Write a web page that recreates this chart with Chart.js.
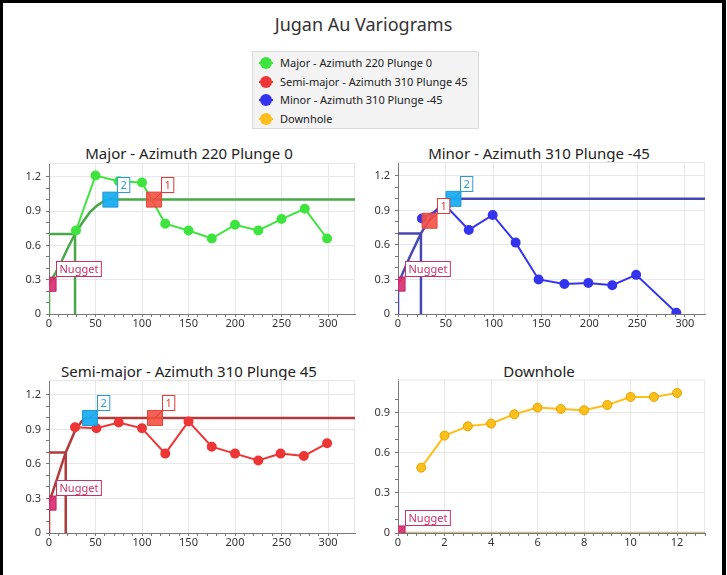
<!DOCTYPE html>
<html>
<head>
<meta charset="utf-8">
<script src="https://cdn.jsdelivr.net/npm/chart.js@4.4.1/dist/chart.umd.min.js"></script>
<style>
  body { margin: 0; background: #fff; font-family: "Noto Sans", sans-serif; }
  #frame { position: absolute; left: 0; top: 0; width: 719px; height: 600px; border: 3px solid #000; border-right-width: 4px; border-bottom: none; }
  #title { position: absolute; left: 0; width: 727px; top: 12px; text-align: center; font-size: 18px; color: #333; line-height: 24px; }
  .ptitle { position: absolute; width: 360px; text-align: center; font-size: 15px; color: #222; line-height: 20px; }
  #legend { position: absolute; left: 252px; top: 51px; width: 225px; height: 76px; background: #f3f3f3; border: 1px solid #dadada; }
  .item { position: absolute; left: 0; width: 225px; height: 18px; line-height: 18px; font-size: 11px; color: #222; }
  .item .ln { position: absolute; left: 6px; top: 8px; width: 14px; height: 2px; }
  .item .dot { position: absolute; left: 7px; top: 3px; width: 12px; height: 12px; border-radius: 50%; }
  .item span { position: absolute; left: 27px; }
  canvas { position: absolute; }
</style>
</head>
<body>
<div id="frame"></div>
<div id="title">Jugan Au Variograms</div>
<div id="legend"></div>

<div class="ptitle" id="t0" style="left:9px;top:143px"></div>
<div class="ptitle" id="t1" style="left:359px;top:143px"></div>
<div class="ptitle" id="t2" style="left:9px;top:361px"></div>
<div class="ptitle" id="t3" style="left:359px;top:361px"></div>

<canvas id="c0" width="360" height="190" style="left:4px;top:150px"></canvas>
<canvas id="c1" width="345" height="190" style="left:370px;top:150px"></canvas>
<canvas id="c2" width="360" height="191" style="left:4px;top:368px"></canvas>
<canvas id="c3" width="345" height="191" style="left:370px;top:368px"></canvas>

<script>
// names
const seriesNames = ['Major - Azimuth 220 Plunge 0', 'Semi-major - Azimuth 310 Plunge 45', 'Minor - Azimuth 310 Plunge -45', 'Downhole'];
const panelTitles = ['Major - Azimuth 220 Plunge 0', 'Minor - Azimuth 310 Plunge -45', 'Semi-major - Azimuth 310 Plunge 45', 'Downhole'];

// experimental variograms (lag, gamma)
const majorLag = [29, 50, 75, 100, 125, 150, 175, 200, 225, 250, 275, 299];
const majorGamma = [0.73, 1.21, 1.16, 1.15, 0.79, 0.73, 0.66, 0.78, 0.73, 0.83, 0.92, 0.66];
const minorLag = [25, 50, 74, 99, 123, 147, 174, 199, 224, 249, 291];
const minorGamma = [0.83, 0.94, 0.73, 0.86, 0.62, 0.30, 0.26, 0.27, 0.25, 0.34, 0.01];
const semiLag = [28, 51, 75, 100, 125, 150, 175, 200, 225, 249, 274, 299];
const semiGamma = [0.92, 0.91, 0.96, 0.91, 0.69, 0.97, 0.75, 0.69, 0.63, 0.69, 0.67, 0.78];
const dhLag = [1, 2, 3, 4, 5, 6, 7, 8, 9, 10, 11, 12];
const dhGamma = [0.49, 0.73, 0.80, 0.82, 0.89, 0.94, 0.93, 0.92, 0.96, 1.02, 1.02, 1.05];

// fitted model curves
const majorModelLag = [0, 0, 7, 14, 21, 28, 36, 44, 52, 60, 66, 329];
const majorModelGamma = [0, 0.26, 0.36, 0.47, 0.59, 0.70, 0.80, 0.89, 0.95, 0.99, 1.0, 1.0];
const minorModelLag = [0, 0, 12, 24, 36, 46, 55, 321];
const minorModelGamma = [0, 0.26, 0.49, 0.70, 0.86, 0.96, 1.0, 1.0];
const semiModelLag = [0, 0, 9, 18, 27, 35, 40, 329];
const semiModelGamma = [0, 0.26, 0.48, 0.70, 0.87, 0.97, 1.0, 1.0];
const dhModelLag = [0, 13.2];
const dhModelGamma = [0, 0];

// nugget, structure handles: [lag, gamma]
const nugget = [[0, 0.26], [0, 0.26], [0, 0.26], [0, 0]];
const struct1 = [[113, 1.0], [33, 0.81], [114, 1.0]];
const struct2 = [[66, 1.0], [58, 1.0], [44, 1.0]];
// first structure guide (range, sill)
const guide = [[28, 0.7], [24, 0.7], [18, 0.7]];

const green = '#3ee43e', red = '#ee3535', blue = '#3434ee', gold = '#ffbf1a';
const seriesColors = [green, red, blue, gold];

// legend
const leg = document.getElementById('legend');
seriesNames.forEach((n, i) => {
  const d = document.createElement('div');
  d.className = 'item';
  d.style.top = (2 + i * 18.5) + 'px';
  d.innerHTML = '<div class="ln" style="background:' + seriesColors[i] + '"></div><div class="dot" style="background:' + seriesColors[i] + '"></div><span>' + n + '</span>';
  leg.appendChild(d);
});
panelTitles.forEach((t, i) => { document.getElementById('t' + i).textContent = t; });

const pts = (xs, ys) => xs.map((x, i) => ({ x: x, y: ys[i] }));
const near = (v, s) => Math.abs(v / s - Math.round(v / s)) < 1e-6;
const FONT = '"Noto Sans", sans-serif';

const tagPlugin = {
  id: 'tags',
  beforeDatasetsDraw(chart) {
    const a = chart.chartArea, ctx = chart.ctx;
    ctx.save();
    ctx.strokeStyle = '#e6e6e6';
    ctx.lineWidth = 1;
    ctx.beginPath();
    ctx.moveTo(a.left, a.top + 0.5);
    ctx.lineTo(a.right - 0.5, a.top + 0.5);
    ctx.lineTo(a.right - 0.5, a.bottom);
    ctx.stroke();
    ctx.restore();
  },
  afterDatasetsDraw(chart) {
    const ctx = chart.ctx;
    chart.data.datasets.forEach((ds, i) => {
      if (!ds.tag) return;
      const el = chart.getDatasetMeta(i).data[0];
      const px = el.x, py = el.y;
      ctx.save();
      ctx.font = '11px ' + FONT;
      const w = ctx.measureText(ds.tag).width + 6;
      const bx = Math.round(px + 7) + 0.5, by = Math.round(py - 8) + 0.5;
      ctx.strokeStyle = ds.tagColor;
      ctx.lineWidth = 1;
      ctx.beginPath();
      ctx.moveTo(px, py);
      ctx.lineTo(bx, by);
      ctx.stroke();
      ctx.fillStyle = '#fff';
      ctx.fillRect(bx, by - 15, w, 15);
      ctx.strokeRect(bx, by - 15, w, 15);
      ctx.fillStyle = ds.tagColor;
      ctx.textBaseline = 'middle';
      ctx.fillText(ds.tag, bx + 3, by - 7);
      ctx.restore();
    });
  }
};

function handle(p, tag, fill, stroke, tagColor, r) {
  return {
    data: [{ x: p[0], y: p[1] }], pointStyle: 'rect', pointRadius: r, pointHoverRadius: r,
    backgroundColor: fill, borderColor: stroke, borderWidth: 1, order: 1, clip: 0,
    tag: tag, tagColor: tagColor
  };
}

function lineSet(data, color, width, radius, order, extra) {
  return Object.assign({
    data: data, showLine: true, borderColor: color, backgroundColor: color,
    borderWidth: width, pointRadius: radius, pointHoverRadius: radius, order: order
  }, extra || {});
}

function makePanel(id, o) {
  return new Chart(document.getElementById(id), {
    type: 'scatter',
    data: { datasets: o.datasets },
    options: {
      responsive: false,
      animation: false,
      devicePixelRatio: 1,
      events: [],
      layout: { autoPadding: false, padding: { top: o.padTop, right: o.padRight, left: 0, bottom: 0 } },
      plugins: { legend: { display: false }, tooltip: { enabled: false }, title: { display: false } },
      scales: {
        x: {
          type: 'linear', min: 0, max: o.xMax,
          afterBuildTicks: s => { s.ticks = s.ticks.filter(t => near(t.value, o.xMinor)); },
          afterFit: s => { s.height = 26; },
          ticks: {
            stepSize: o.xMinor, autoSkip: false, maxRotation: 0, padding: 0,
            color: '#333', font: { size: 11, family: FONT },
            callback: v => near(v, o.xStep) ? String(Math.round(v)) : ''
          },
          grid: {
            color: c => (c.tick && near(c.tick.value, o.xStep)) ? '#e8e8e8' : 'rgba(0,0,0,0)',
            tickColor: '#777', tickLength: 3
          },
          border: { color: '#777' }
        },
        y: {
          type: 'linear', min: 0, max: o.yMax,
          afterBuildTicks: s => { s.ticks = s.ticks.filter(t => near(t.value, 0.1)); },
          afterFit: s => { s.width = o.yWidth; },
          ticks: {
            stepSize: 0.1, autoSkip: false, padding: 5,
            color: '#333', font: { size: 11, family: FONT },
            callback: v => near(v, 0.3) ? String(Math.round(v * 10) / 10) : ''
          },
          grid: {
            color: c => (c.tick && near(c.tick.value, 0.3)) ? '#e8e8e8' : 'rgba(0,0,0,0)',
            tickColor: '#777', tickLength: 3
          },
          border: { color: '#777' }
        }
      }
    },
    plugins: [tagPlugin]
  });
}

const nugFill = 'rgba(216,44,112,0.9)', nugLine = '#c0245e', nugTag = '#c8306a';
const s1Fill = 'rgba(244,80,66,0.9)', s1Line = '#e0443a', s1Tag = '#e53935';
const s2Fill = 'rgba(24,174,242,0.95)', s2Line = '#1e96d4', s2Tag = '#2a9ad8';

function panelSets(k, lag, gamma, mLag, mGamma, dataColor, modelColor) {
  const g = guide[k];
  return [
    lineSet(pts(lag, gamma), dataColor, 2, 4, 2),
    lineSet(pts(mLag, mGamma), modelColor, 2.5, 0, 3),
    lineSet([{ x: 0, y: g[1] }, { x: g[0], y: g[1] }, { x: g[0], y: 0 }], modelColor, 2.5, 0, 3),
    handle(nugget[k], 'Nugget', nugFill, nugLine, nugTag, 10),
    handle(struct2[k], '2', s2Fill, s2Line, s2Tag, 10.6),
    handle(struct1[k], '1', s1Fill, s1Line, s1Tag, 10.6)
  ];
}

makePanel('c0', {
  xMax: 329, xStep: 50, xMinor: 10, yMax: 1.32, yWidth: 45, padTop: 13, padRight: 9,
  datasets: panelSets(0, majorLag, majorGamma, majorModelLag, majorModelGamma, green, '#46a846')
});
makePanel('c1', {
  xMax: 321, xStep: 50, xMinor: 10, yMax: 1.32, yWidth: 28, padTop: 12, padRight: 10,
  datasets: panelSets(1, minorLag, minorGamma, minorModelLag, minorModelGamma, blue, '#4848b4')
});
makePanel('c2', {
  xMax: 329, xStep: 50, xMinor: 10, yMax: 1.33, yWidth: 45, padTop: 12, padRight: 9,
  datasets: panelSets(2, semiLag, semiGamma, semiModelLag, semiModelGamma, red, '#b23a3a')
});
makePanel('c3', {
  xMax: 13.2, xStep: 2, xMinor: 0.4, yMax: 1.15, yWidth: 28, padTop: 11, padRight: 10,
  datasets: [
    lineSet(pts(dhLag, dhGamma), gold, 2, 4.5, 2, { backgroundColor: gold, borderColor: gold, pointBorderColor: '#e3a200', pointBorderWidth: 1 }),
    lineSet(pts(dhModelLag, dhModelGamma), 'rgba(196,170,110,0.8)', 2.5, 0, 3),
    handle(nugget[3], 'Nugget', nugFill, nugLine, nugTag, 10)
  ]
});
</script>
</body>
</html>
